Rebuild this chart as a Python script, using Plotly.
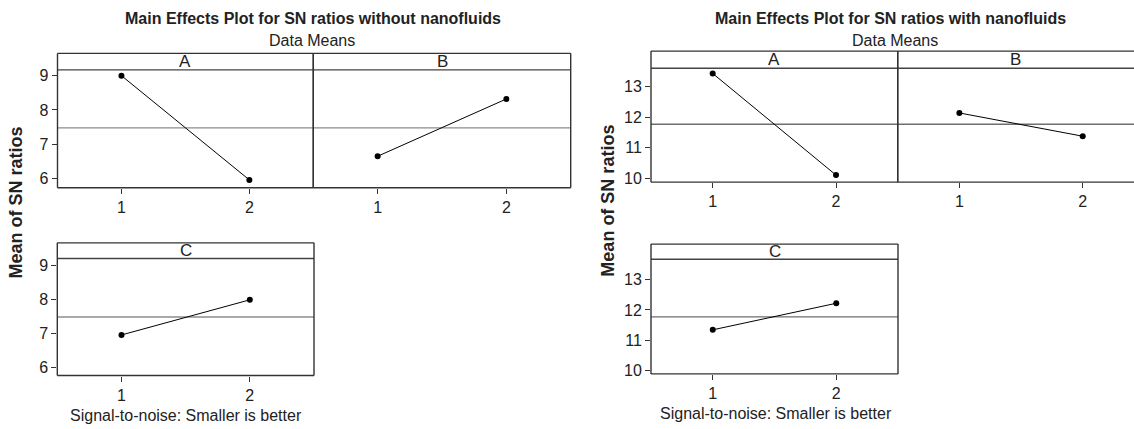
import plotly.graph_objects as go

# ---------------- data ----------------
levels = [1, 2]
level_labels = ["1", "2"]
factor_names = ["A", "B", "C"]

without_A = [9.00, 5.96]
without_B = [6.65, 8.32]
without_C = [6.95, 7.98]

with_A = [13.43, 10.11]
with_B = [12.14, 11.38]
with_C = [11.34, 12.22]

yticks_without = [6, 7, 8, 9]
yticks_with = [10, 11, 12, 13]

title_without = "Main Effects Plot for SN ratios without nanofluids"
title_with = "Main Effects Plot for SN ratios with nanofluids"
subtitle = "Data Means"
ylabel = "Mean of SN ratios"
xlabel = "Signal-to-noise: Smaller is better"

mean_without = sum(without_A + without_B + without_C) / 6
mean_with = sum(with_A + with_B + with_C) / 6

W, H = 1134, 429
FONT = "Liberation Sans, Arial, sans-serif"
TXT = "#222222"


def px_x(a, b):
    return [a / W, b / W]


def px_y(top, bottom):
    return [1 - bottom / H, 1 - top / H]


# panel layout: (values, name, xdomain, ydomain, yrange, strip value, show y ticks,
#                yticks, mean, mean colour, xrange, draw right border)
panels = [
    (without_A, factor_names[0], px_x(57.5, 313.3), px_y(54, 190), [5.73, 9.65], 9.17, True,
     yticks_without, mean_without, "#8c8c8c", [0.5, 2.5], True),
    (without_B, factor_names[1], px_x(313.3, 570.7), px_y(54, 190), [5.73, 9.65], 9.17, False,
     yticks_without, mean_without, "#8c8c8c", [0.5, 2.5], True),
    (without_C, factor_names[2], px_x(57.3, 314.0), px_y(245.7, 380), [5.76, 9.65], 9.19, True,
     yticks_without, mean_without, "#8c8c8c", [0.5, 2.5], True),
    (with_A, factor_names[0], px_x(651, 897.7), px_y(51.7, 184.3), [9.88, 14.16], 13.60, True,
     yticks_with, mean_with, "#6e6e6e", [0.5, 2.5], True),
    (with_B, factor_names[1], px_x(897.7, 1134), px_y(51.7, 184.3), [9.88, 14.16], 13.60, False,
     yticks_with, mean_with, "#6e6e6e", [0.5, 0.5 + 2 * (1134 - 897.7) / 246.7], False),
    (with_C, factor_names[2], px_x(651, 898), px_y(247, 378.3), [9.88, 14.18], 13.68, True,
     yticks_with, mean_with, "#6e6e6e", [0.5, 2.5], True),
]

fig = go.Figure()
layout = dict(
    width=W, height=H,
    margin=dict(l=0, r=0, t=0, b=0),
    paper_bgcolor="white", plot_bgcolor="white",
    showlegend=False,
    font=dict(family=FONT, color=TXT),
)
shapes = []
annotations = []

for i, (vals, name, xd, yd, yr, strip, showy, yt, mean, mcol, xr, right) in enumerate(panels, start=1):
    sfx = "" if i == 1 else str(i)
    xa, ya = "x" + sfx, "y" + sfx
    layout["xaxis" + sfx] = dict(
        domain=xd, range=xr, anchor=ya, tickmode="array", tickvals=levels,
        ticktext=level_labels, ticks="outside", ticklen=5, tickcolor="#333",
        showgrid=False, zeroline=False, showline=False,
        tickfont=dict(size=16, color=TXT, family=FONT), fixedrange=True,
    )
    layout["yaxis" + sfx] = dict(
        domain=yd, range=yr, anchor=xa, tickmode="array", tickvals=yt,
        ticks="outside" if showy else "", ticklen=5, tickcolor="#333",
        showticklabels=showy, showgrid=False, zeroline=False, showline=False,
        tickfont=dict(size=16, color=TXT, family=FONT), fixedrange=True,
    )
    fig.add_trace(go.Scatter(
        x=levels, y=vals, mode="lines+markers", xaxis=xa, yaxis=ya,
        line=dict(color="black", width=1),
        marker=dict(color="black", size=6), hoverinfo="x+y",
    ))
    xdom = xa + " domain"
    ydom = ya + " domain"
    # mean reference line
    shapes.append(dict(type="line", xref=xdom, x0=0, x1=1, yref=ya, y0=mean, y1=mean,
                       line=dict(color=mcol, width=1.4), layer="below"))
    # strip separator
    shapes.append(dict(type="line", xref=xdom, x0=0, x1=1, yref=ya, y0=strip, y1=strip,
                       line=dict(color="#444", width=1.4)))
    # borders
    bc = dict(color="#333", width=1.4)
    shapes.append(dict(type="line", xref=xdom, x0=0, x1=1, yref=ydom, y0=0, y1=0, line=bc))
    shapes.append(dict(type="line", xref=xdom, x0=0, x1=1, yref=ydom, y0=1, y1=1, line=bc))
    shapes.append(dict(type="line", xref=xdom, x0=0, x1=0, yref=ydom, y0=0, y1=1, line=bc))
    if right:
        shapes.append(dict(type="line", xref=xdom, x0=1, x1=1, yref=ydom, y0=0, y1=1, line=bc))
    # strip label
    annotations.append(dict(text=name, xref=xdom, x=0.5, yref=ya, y=(strip + yr[1]) / 2,
                            showarrow=False, xanchor="center", yanchor="middle",
                            font=dict(size=17, color=TXT, family=FONT)))


# titles and labels (paper coordinates)
def ann(text, x, y, size, bold=False, angle=0):
    annotations.append(dict(
        text=f"<b>{text}</b>" if bold else text, xref="paper", yref="paper",
        x=x / W, y=1 - y / H, showarrow=False, xanchor="center", yanchor="middle",
        textangle=angle, font=dict(size=size, color=TXT, family=FONT)))


ann(title_without, 313, 18.5, 16, bold=True)
ann(subtitle, 312, 41, 16)
ann(title_with, 890, 18.5, 16, bold=True)
ann(subtitle, 895, 41, 16)
ann(ylabel, 16, 205, 18, bold=True, angle=-90)
ann(ylabel, 608, 203, 18, bold=True, angle=-90)
ann(xlabel, 186, 420, 16)
ann(xlabel, 776, 418, 16)

layout["shapes"] = shapes
layout["annotations"] = annotations
fig.update_layout(**layout)
fig.write_html("out.html")
